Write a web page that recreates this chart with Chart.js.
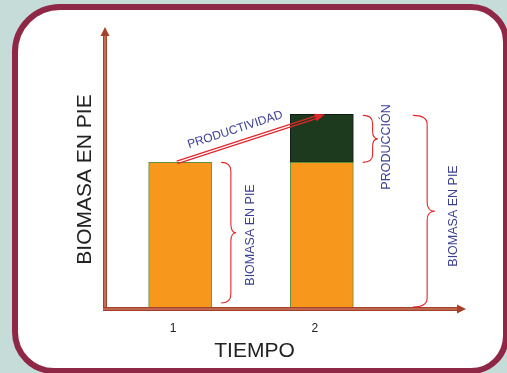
<!DOCTYPE html>
<html>
<head>
<meta charset="utf-8">
<script src="https://cdn.jsdelivr.net/npm/chart.js@4.4.1/dist/chart.umd.min.js"></script>
<style>
  html, body { margin: 0; padding: 0; }
  body { width: 507px; height: 373px; background: #c6dcd9; position: relative; overflow: hidden; }
  #marco {
    position: absolute; left: 12px; top: 4px; width: 497px; height: 370px;
    box-sizing: border-box; background: #fff;
    border: 6px solid #8f2747; border-radius: 48px 38px 38px 42px;
  }
  #grafica { position: absolute; left: 0; top: 0; }
</style>
</head>
<body>
<div id="marco"></div>
<canvas id="grafica" width="507" height="373"></canvas>
<script>
// datos
const tiempo = [1, 2];
const biomasaEnPie = [52, 52];
const produccion = [null, 17];

const FUENTE = '"Liberation Sans", Arial, sans-serif';
const AZUL = '#3b3f91';
const ROJO = '#e3262c';

function llave(ctx, x, y0, y1, ancho) {
    const mid = (y0 + y1) / 2;
    const r = Math.min(9, (y1 - y0) / 6);
    const xm = x + ancho * 0.65;
    ctx.beginPath();
    ctx.moveTo(x, y0);
    ctx.quadraticCurveTo(xm, y0, xm, y0 + r);
    ctx.lineTo(xm, mid - r);
    ctx.quadraticCurveTo(xm, mid, x + ancho, mid);
    ctx.quadraticCurveTo(xm, mid, xm, mid + r);
    ctx.lineTo(xm, y1 - r);
    ctx.quadraticCurveTo(xm, y1, x, y1);
    ctx.stroke();
}

function textoVertical(ctx, txt, x, y, size, color) {
    ctx.save();
    ctx.translate(x, y);
    ctx.rotate(-Math.PI / 2);
    ctx.font = size + 'px ' + FUENTE;
    ctx.fillStyle = color;
    ctx.textAlign = 'center';
    ctx.textBaseline = 'middle';
    ctx.fillText(txt, 0, 0);
    ctx.restore();
}

function punta(ctx, x, y, ang, largo, medio) {
    ctx.beginPath();
    ctx.moveTo(x, y);
    ctx.lineTo(x - largo * Math.cos(ang) + medio * Math.sin(ang), y - largo * Math.sin(ang) - medio * Math.cos(ang));
    ctx.lineTo(x - largo * Math.cos(ang) - medio * Math.sin(ang), y - largo * Math.sin(ang) + medio * Math.cos(ang));
    ctx.closePath();
    ctx.fill();
}

function eje(ctx, x0, y0, x1, y1) {
    const ang = Math.atan2(y1 - y0, x1 - x0);
    const xe = x1 - 7 * Math.cos(ang), ye = y1 - 7 * Math.sin(ang);
    ctx.save();
    ctx.strokeStyle = '#a3412a';
    ctx.lineWidth = 4;
    ctx.beginPath(); ctx.moveTo(x0, y0); ctx.lineTo(xe, ye); ctx.stroke();
    ctx.strokeStyle = '#d98d72';
    ctx.lineWidth = 1.2;
    ctx.beginPath(); ctx.moveTo(x0, y0); ctx.lineTo(xe, ye); ctx.stroke();
    ctx.fillStyle = '#a3412a';
    punta(ctx, x1, y1, ang, 9, 4.5);
    ctx.restore();
}

const anotaciones = {
    id: 'anotaciones',
    afterDatasetsDraw(chart) {
        const ctx = chart.ctx;
        const area = chart.chartArea;
        const sx = chart.scales.x, sy = chart.scales.y;

        // ejes con flechas
        eje(ctx, area.left, area.bottom + 1, area.left, area.top);
        eje(ctx, area.left - 2, area.bottom, area.right + 1, area.bottom);

        // titulos
        textoVertical(ctx, 'BIOMASA EN PIE', 85.5, 179.5, 21, '#222');
        ctx.save();
        ctx.font = '21px ' + FUENTE;
        ctx.fillStyle = '#222';
        ctx.textAlign = 'center';
        ctx.textBaseline = 'middle';
        ctx.fillText('TIEMPO', 254.5, 351.5);
        ctx.restore();

        const x1 = sx.getPixelForValue(tiempo[0]);
        const x2 = sx.getPixelForValue(tiempo[1]);
        const yB1 = sy.getPixelForValue(biomasaEnPie[0]);
        const yB2 = sy.getPixelForValue(biomasaEnPie[1]);
        const yT2 = sy.getPixelForValue(biomasaEnPie[1] + produccion[1]);

        // flecha productividad (doble linea)
        const ax0 = x1 - 3, ay0 = yB1, ax1 = x2 + 3, ay1 = yT2;
        const ang = Math.atan2(ay1 - ay0, ax1 - ax0);
        const nx = Math.sin(ang), ny = -Math.cos(ang);
        ctx.save();
        ctx.strokeStyle = ROJO;
        ctx.fillStyle = ROJO;
        ctx.lineWidth = 1.2;
        const ex = ax1 - 8 * Math.cos(ang), ey = ay1 - 8 * Math.sin(ang);
        [-1.3, 1.3].forEach(o => {
            ctx.beginPath();
            ctx.moveTo(ax0 + nx * o, ay0 + ny * o);
            ctx.lineTo(ex + nx * o, ey + ny * o);
            ctx.stroke();
        });
        punta(ctx, ax1, ay1, ang, 10, 4);
        ctx.restore();

        const t = 0.42;
        const cx = ax0 + (ax1 - ax0) * t + nx * 13;
        const cy = ay0 + (ay1 - ay0) * t + ny * 13;
        ctx.save();
        ctx.translate(cx, cy);
        ctx.rotate(ang);
        ctx.font = '12px ' + FUENTE;
        ctx.fillStyle = AZUL;
        ctx.textAlign = 'center';
        ctx.textBaseline = 'middle';
        ctx.fillText('PRODUCTIVIDAD', 0, 0);
        ctx.restore();

        // llaves
        ctx.save();
        ctx.strokeStyle = ROJO;
        ctx.lineWidth = 1.1;
        llave(ctx, x1 + 41, yB1, area.bottom - 6, 15);
        llave(ctx, x2 + 41, yT2 + 1, yB2, 15);
        llave(ctx, x2 + 91, yT2 + 1, area.bottom - 2, 22);
        ctx.restore();

        textoVertical(ctx, 'BIOMASA EN PIE', x1 + 70.5, 235, 12.5, AZUL);
        textoVertical(ctx, 'PRODUCCIÓN', x2 + 65, 147, 12.5, AZUL);
        textoVertical(ctx, 'BIOMASA EN PIE', x2 + 132, 216, 12.5, AZUL);
    }
};

new Chart(document.getElementById('grafica'), {
    type: 'bar',
    data: {
        datasets: [
            {
                label: 'Biomasa en pie',
                data: tiempo.map((t, i) => ({ x: t, y: biomasaEnPie[i] })),
                backgroundColor: '#f7981d',
                borderColor: '#5f8f3c',
                borderWidth: 1,
                borderSkipped: false,
                barThickness: 63
            },
            {
                label: 'Producción',
                data: tiempo.map((t, i) => ({ x: t, y: produccion[i] })),
                backgroundColor: '#1e3a1e',
                borderColor: '#111a11',
                borderWidth: 1,
                borderSkipped: false,
                barThickness: 63
            }
        ]
    },
    options: {
        responsive: false,
        animation: false,
        layout: { padding: { left: 105, top: 27, right: 42, bottom: 0 } },
        plugins: { legend: { display: false }, tooltip: { enabled: false } },
        scales: {
            x: {
                type: 'linear',
                offset: false,
                min: 0.47,
                max: 3.01,
                stacked: true,
                afterBuildTicks: s => { s.ticks = tiempo.map(v => ({ value: v })); },
                afterFit: s => { s.height = 64; },
                grid: { display: false, drawTicks: false, offset: false },
                border: { display: false },
                ticks: { padding: 12, labelOffset: -7, color: '#222', font: { size: 12, family: FUENTE } }
            },
            y: {
                display: false,
                min: 0,
                max: 100,
                stacked: true
            }
        }
    },
    plugins: [anotaciones]
});
</script>
</body>
</html>
